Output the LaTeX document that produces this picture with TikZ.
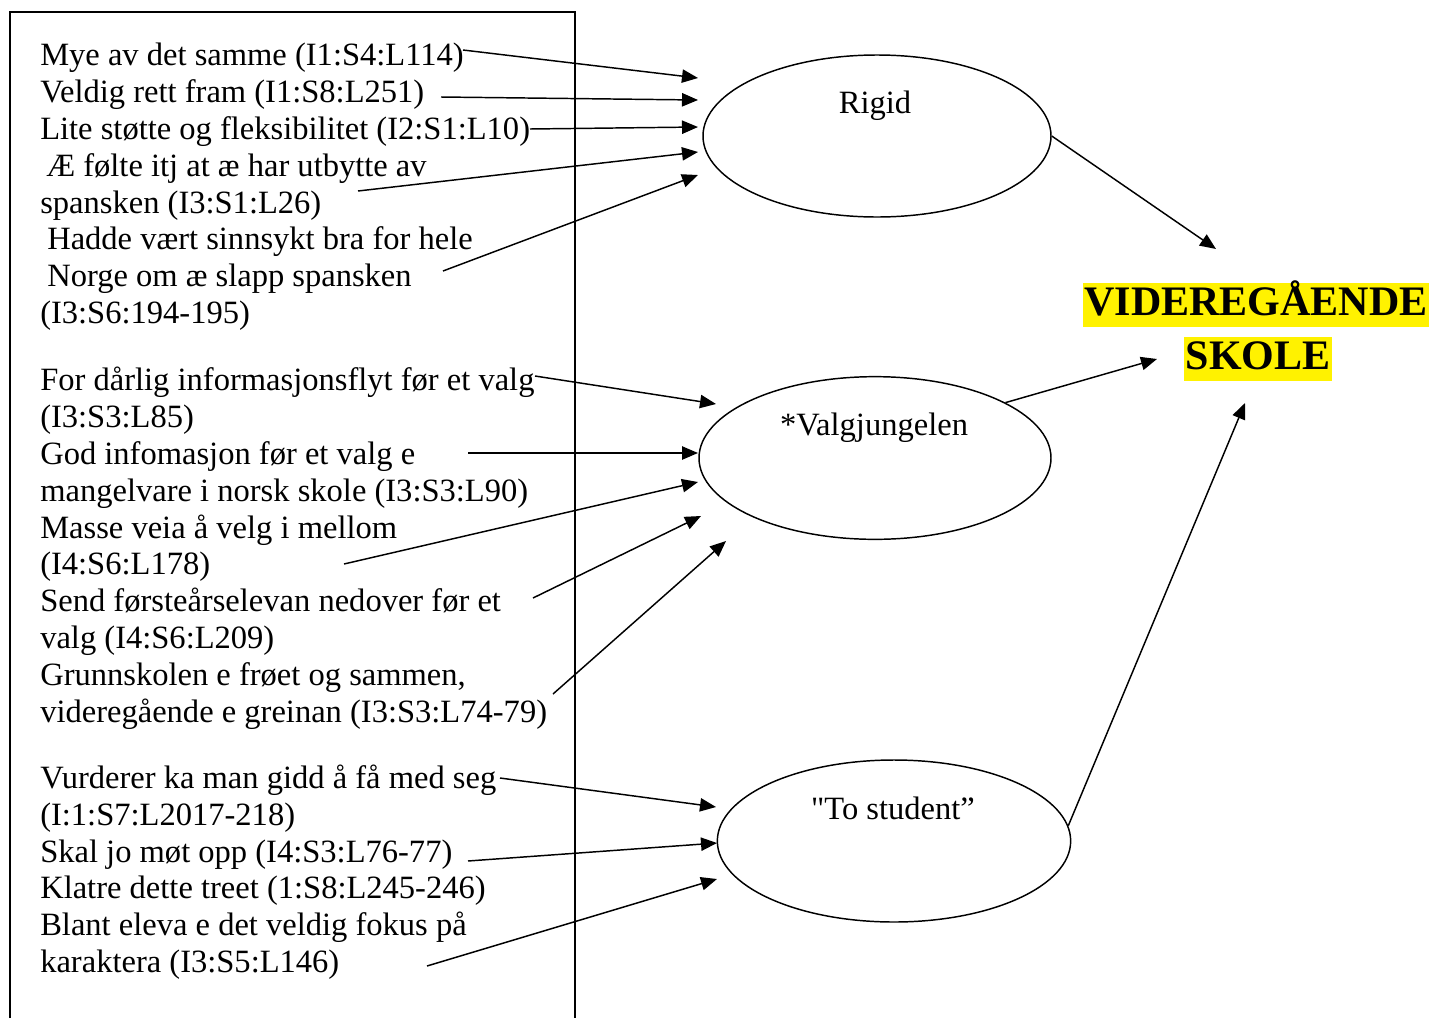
\documentclass[tikz,border=0pt]{standalone}
\usepackage{fontspec}
\setmainfont{Liberation Serif}
% same face loaded without the TeX input mapping, for a straight double quote
\font\straightq="Liberation Serif" at 24.4pt
\usetikzlibrary{arrows.meta,shapes.geometric}
\begin{document}
\begin{tikzpicture}[x=0.75pt,y=-0.75pt,
  txt/.style={anchor=base west, inner sep=0pt, font=\fontsize{24.4}{29}\selectfont},
  oval/.style={draw, ellipse, line width=1.1pt, inner sep=0pt},
  conn/.style={line width=1.1pt, -{Triangle[length=12pt,width=10pt]}},
  title/.style={fill=yellow, inner xsep=1pt, inner ysep=0pt, text height=24pt, text depth=9pt,
    font=\fontsize{31.5}{36}\selectfont\bfseries},
]
\useasboundingbox (0,0) rectangle (1432,1018);

% frame around the quotations
\draw[line width=1.1pt] (10,1018) -- (10,12) -- (575,12) -- (575,1018);

% --- quotations, group 1 ---
\node[txt] (a1) at (40,65)  {Mye av det samme (I1:S4:L114)};
\node[txt] (a2) at (40,102) {Veldig rett fram (I1:S8:L251)};
\node[txt] (a3) at (40,139) {Lite støtte og fleksibilitet (I2:S1:L10)};
\node[txt] (a4) at (46,176) {Æ følte itj at æ har utbytte av};
\node[txt] (a5) at (40,213) {spansken (I3:S1:L26)};
\node[txt] (a6) at (47,249) {Hadde vært sinnsykt bra for hele};
\node[txt] (a7) at (47,286) {Norge om æ slapp spansken};
\node[txt] (a8) at (40,323) {(I3:S6:194-195)};

% --- quotations, group 2 ---
\node[txt] (b1) at (40,390) {For dårlig informasjonsflyt før et valg};
\node[txt] (b2) at (40,427) {(I3:S3:L85)};
\node[txt] (b3) at (40,464) {God infomasjon før et valg e};
\node[txt] (b4) at (40,501) {mangelvare i norsk skole (I3:S3:L90)};
\node[txt] (b5) at (40,538) {Masse veia å velg i mellom};
\node[txt] (b6) at (40,574) {(I4:S6:L178)};
\node[txt] (b7) at (40,611) {Send førsteårselevan nedover før et};
\node[txt] (b8) at (40,648) {valg (I4:S6:L209)};
\node[txt] (b9) at (40,685) {Grunnskolen e frøet og sammen,};
\node[txt] (b10) at (40,722) {videregående e greinan (I3:S3:L74-79)};

% --- quotations, group 3 ---
\node[txt] (c1) at (40,788) {Vurderer ka man gidd å få med seg};
\node[txt] (c2) at (40,825) {(I:1:S7:L2017-218)};
\node[txt] (c3) at (40,862) {Skal jo møt opp (I4:S3:L76-77)};
\node[txt] (c4) at (40,898) {Klatre dette treet (1:S8:L245-246)};
\node[txt] (c5) at (40,935) {Blant eleva e det veldig fokus på};
\node[txt] (c6) at (40,972) {karaktera (I3:S5:L146)};

% --- categories ---
\node[oval, minimum width=261pt, minimum height=121.5pt] (rigid) at (877,136) {};
\node[txt, anchor=center] (rigidlbl) at (875,106) {Rigid};
\node[oval, minimum width=264pt, minimum height=122pt] (valg) at (875,458) {};
\node[txt, anchor=center] (valglbl) at (874,428) {*Valgjungelen};
\node[oval, minimum width=265pt, minimum height=121.5pt] (tost) at (894,841) {};
\node[txt, anchor=center] (tostlbl) at (893,808) {{\straightq"}To student”};

% --- main theme ---
\node[title] (vgs1) at (1256,305) {VIDEREGÅENDE};
\node[title] (vgs2) at (1258,359) {SKOLE};

% arrow ends
\coordinate (sa1) at (463,50);  \coordinate (ta1) at (698,78);
\coordinate (sa2) at (441,97);  \coordinate (ta2) at (698,100);
\coordinate (sa3) at (530,129); \coordinate (ta3) at (698,127);
\coordinate (sa4) at (358,191); \coordinate (ta4) at (698,152);
\coordinate (sa5) at (443,271); \coordinate (ta5) at (698,175);

\coordinate (sb1) at (535,376); \coordinate (tb1) at (716,404);
\coordinate (sb2) at (468,453); \coordinate (tb2) at (698,453);
\coordinate (sb3) at (344,564); \coordinate (tb3) at (698,482);
\coordinate (sb4) at (533,598); \coordinate (tb4) at (701,516);
\coordinate (sb5) at (553,694); \coordinate (tb5) at (726,541);

\coordinate (sc1) at (500,778); \coordinate (tc1) at (716,807);
\coordinate (sc2) at (468,861); \coordinate (tc2) at (717,843);
\coordinate (sc3) at (427,966); \coordinate (tc3) at (717,879);

\coordinate (vr) at (1216,249);
\coordinate (vv) at (1157,359);
\coordinate (vt) at (1245,403);

% connectors
\foreach \s/\t in {sa1/ta1,sa2/ta2,sa3/ta3,sa4/ta4,sa5/ta5,
                   sb1/tb1,sb2/tb2,sb3/tb3,sb4/tb4,sb5/tb5,
                   sc1/tc1,sc2/tc2,sc3/tc3}
  \draw[conn] (\s) -- (\t);

\draw[conn] (rigid.east) -- (vr);
\draw[conn] (valg.23) -- (vv);
\draw[conn] (tost.5) -- (vt);
\end{tikzpicture}
\end{document}
